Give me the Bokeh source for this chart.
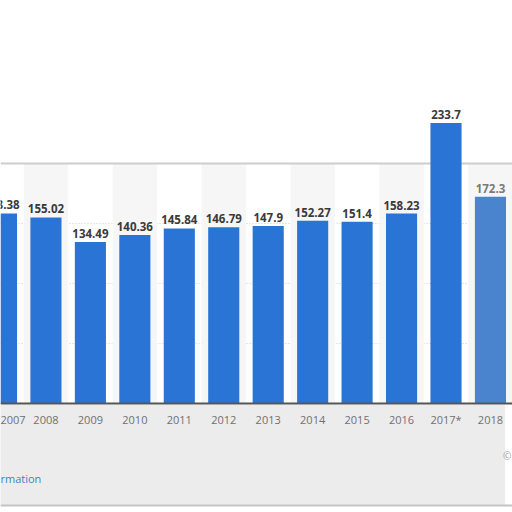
from bokeh.plotting import figure
from bokeh.models import ColumnDataSource, Range1d, LinearAxis, FixedTicker, Label
from bokeh.core.properties import value
from bokeh.embed import file_html
from bokeh.resources import INLINE

# ---- data ----
years = ["2007", "2008", "2009", "2010", "2011", "2012", "2013", "2014",
         "2015", "2016", "2017*", "2018"]
values = [158.38, 155.02, 134.49, 140.36, 145.84, 146.79, 147.9, 152.27,
          151.4, 158.23, 233.7, 172.3]
value_labels = ["158.38", "155.02", "134.49", "140.36", "145.84", "146.79",
                "147.9", "152.27", "151.4", "158.23", "233.7", "172.3"]
grid_values = [50, 100, 150]
frame_top_value = 200

idx = list(range(len(years)))
bar_colors = ["#2a74d6"] * (len(years) - 1) + ["#4a84cf"]
label_colors = ["#3a3a3a"] * (len(years) - 1) + ["#7a7a7a"]

src = ColumnDataSource(dict(x=idx, top=values, lab=value_labels,
                            color=bar_colors, lcolor=label_colors))
band_x = [i for i, y in enumerate(years) if int(y[:4]) % 2 == 0]

Y0, Y1 = -90.83, 335.83
p = figure(width=512, height=512, output_backend="svg", toolbar_location=None,
           x_range=Range1d(-0.0225, 11.496), y_range=Range1d(Y0, Y1),
           x_axis_location=None, y_axis_location=None, min_border=0)
p.outline_line_color = None
p.background_fill_color = "white"
p.border_fill_color = "white"

# footer (blurred grey area under the chart)
p.quad(left=[-1], right=[11.33], bottom=[-85.0], top=[-1], fill_color="#ececec",
       line_color=None)
p.hspan(y=[-85.0], line_color="#c4c4c4", line_width=2)

# alternating background bands
p.vbar(x=band_x, top=frame_top_value, bottom=0, width=1.0,
       fill_color="#f6f6f6", line_color=None)
# frame top border
p.hspan(y=[frame_top_value], line_color="#cdcdcd", line_width=2)

# grid
p.ygrid.ticker = FixedTicker(ticks=grid_values)
p.ygrid.grid_line_color = "#cfcfcf"
p.ygrid.grid_line_dash = "1 2"
p.xgrid.visible = False

p.vbar(x="x", top="top", width=0.7, fill_color="color", line_color=None,
       source=src)
p.text(x="x", y="top", text="lab", source=src, text_align="center",
       text_baseline="bottom", y_offset=-4, text_font=value("Open Sans"),
       text_font_style="bold", text_font_size="11.5px", text_color="lcolor")

xaxis = LinearAxis(fixed_location=0)
xaxis.ticker = FixedTicker(ticks=idx)
xaxis.major_label_overrides = {i: y for i, y in enumerate(years)}
xaxis.axis_line_color = "#555555"
xaxis.axis_line_width = 2
xaxis.major_tick_line_color = None
xaxis.minor_tick_line_color = None
xaxis.major_label_standoff = 2
xaxis.major_label_text_font = "Open Sans"
xaxis.major_label_text_font_size = "11px"
xaxis.major_label_text_color = "#707070"
p.add_layout(xaxis, "below")

p.add_layout(Label(x=-0.0225, y=-62.5, text="rmation", text_font="Open Sans",
                   text_font_size="11px", text_color="#3a85c6",
                   text_baseline="middle"))
p.add_layout(Label(x=11.47, y=-44, text="©", text_font="Open Sans",
                   text_font_size="10px", text_color="#9a9a9a",
                   text_align="right", text_baseline="middle"))

open("out.html", "w").write(file_html(p, INLINE))
